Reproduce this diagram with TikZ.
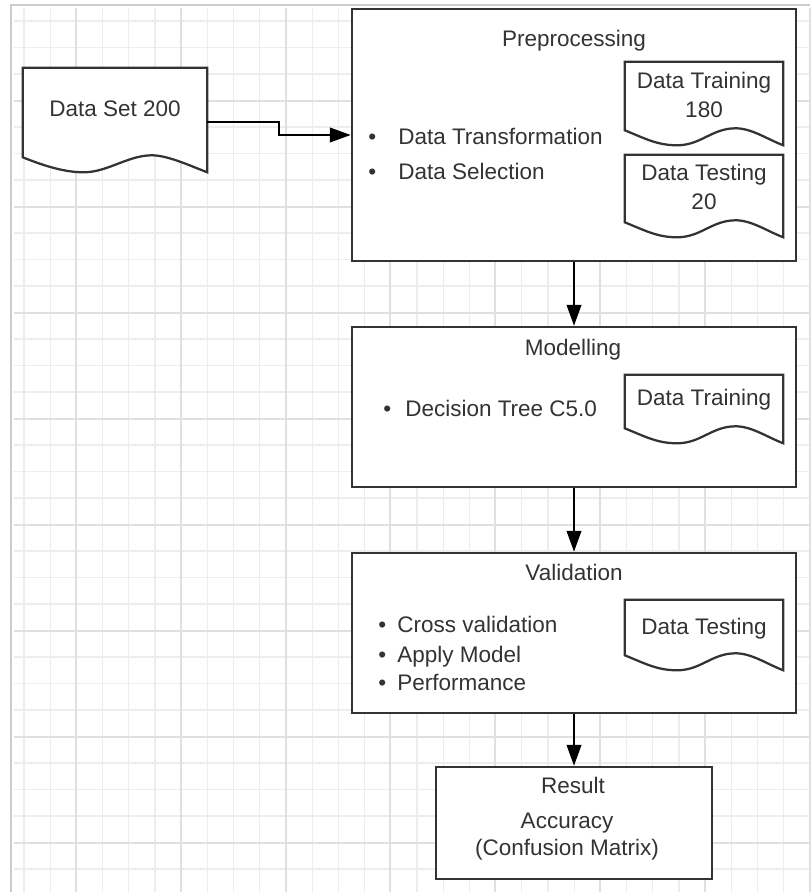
\documentclass[tikz,border=0pt]{standalone}
\usepackage{fontspec}
\setmainfont{Liberation Sans}
\usetikzlibrary{arrows.meta,calc,positioning}

\newcommand{\diafont}{\fontsize{16}{20.6}\selectfont}

\tikzset{
  frameline/.style={draw=black!20, line width=1pt},
  minor/.style={draw=black!7, line width=0.9pt},
  major/.style={draw=black!12, line width=1.3pt},
  box/.style={draw=black!80, line width=1.7pt, fill=white, minimum width=11.1cm, inner sep=0pt},
  docframe/.style={minimum width=3.95cm, inner sep=0pt},
  docline/.style={draw=black!80, line width=1.6pt, fill=white},
  doctext/.style={font=\diafont, text=black!80, inner sep=0pt, align=center},
  lbl/.style={font=\diafont, text=black!80, inner sep=0pt, anchor=base},
  item/.style={font=\diafont, text=black!80, inner sep=0pt, anchor=base west},
  flow/.style={draw=black, line width=1.6pt, -{Triangle[length=0.52cm,width=0.36cm]}}
}

% document outline: flat top, wavy bottom
\newcommand{\docshape}[1]{%
  \draw[docline] (#1.south west) -- (#1.north west) -- (#1.north east)
    -- ($(#1.south east)+(0,15)$)
    .. controls +(-16,-6) and +(16,0) .. ($(#1.south west)!0.7!(#1.south east)+(0,-2)$)
    .. controls +(-24,0) and +(24,0) .. ($(#1.south west)!0.33!(#1.south east)+(0,15)$)
    .. controls +(-20,0) and +(20,8) .. (#1.south west) -- cycle;}

\begin{document}
\begin{tikzpicture}[x=0.025cm,y=-0.025cm]
\useasboundingbox (0,0) rectangle (810,892);

% grid paper
\draw[frameline] (11,892) -- (11,5) -- (810,5);
\foreach \k in {0,...,30} \draw[minor] ({24+26.2*\k},8) -- ({24+26.2*\k},892);
\foreach \k in {0,...,32} \draw[minor] (14,{21+26.5*\k}) -- (810,{21+26.5*\k});
\foreach \k in {0,...,7} \draw[major] ({76+104.8*\k},8) -- ({76+104.8*\k},892);
\foreach \k in {0,...,7} \draw[major] (14,{101+106*\k}) -- (810,{101+106*\k});

% stage boxes
\node[box, minimum height=6.3cm] (pre) at (574,135) {};
\node[box, minimum height=4cm] (mod) at (574,407) {};
\node[box, minimum height=4cm] (val) at (574,633) {};
\node[box, minimum width=6.9cm, minimum height=2.8cm] (res) at (574,823) {};

% documents
\node[docframe, minimum width=4.6cm, minimum height=2.225cm] (ds) at (115,112.5) {};
\node[docframe, minimum height=1.7cm] (dtr1) at (704,96) {};
\node[docframe, minimum height=1.675cm] (dte1) at (704,188.5) {};
\node[docframe, minimum height=1.325cm] (dtr2) at (704,401.5) {};
\node[docframe, minimum height=1.375cm] (dte2) at (704,627.5) {};
\foreach \d in {ds,dtr1,dte1,dtr2,dte2} \docshape{\d};

% texts
\node[doctext] (dst) at (115,108.5) {Data Set 200};

\node[lbl] (pret) at (574,47) {Preprocessing};
\node[item] (pi1) at (368,145) {\makebox[0.75cm][l]{•}Data Transformation};
\node[item] (pi2) at (368,180) {\makebox[0.75cm][l]{•}Data Selection};
\node[doctext] (dtr1t) at (704,94.5) {Data Training\\180};
\node[doctext] (dte1t) at (704,187) {Data Testing\\20};

\node[lbl] (modt) at (573,355) {Modelling};
\node[item] (mi1) at (383,416) {\makebox[0.55cm][l]{•}Decision Tree C5.0};
\node[doctext] (dtr2t) at (704,399.5) {Data Training};

\node[lbl] (valt) at (574,580) {Validation};
\node[item] (vi1) at (378,632) {\makebox[0.475cm][l]{•}Cross validation};
\node[item] (vi2) at (378,662) {\makebox[0.475cm][l]{•}Apply Model};
\node[item] (vi3) at (378,690) {\makebox[0.475cm][l]{•}Performance};
\node[doctext] (dte2t) at (704,629) {Data Testing};

\node[lbl] (rest) at (573,793) {Result};
\node[lbl] (acc) at (567,828) {Accuracy};
\node[lbl] (conf) at (567,855) {(Confusion Matrix)};

% flow
\draw[flow] ($(ds.east)+(0,9.5)$) -| ($(ds.east)!0.5!(pre.west)$) |- (pre.west);
\draw[flow] (pre.south) -- (mod.north);
\draw[flow] (mod.south) -- (val.north);
\draw[flow] (val.south) -- (res.north);
\end{tikzpicture}
\end{document}
